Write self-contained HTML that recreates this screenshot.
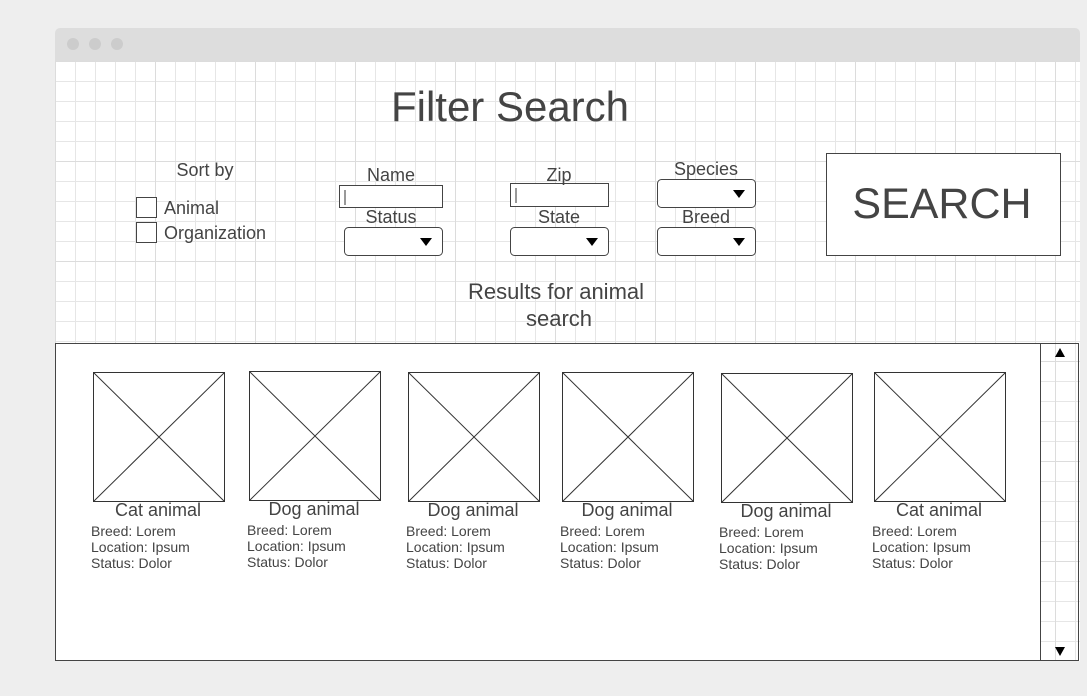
<!DOCTYPE html>
<html><head><meta charset="utf-8"><style>
html,body{margin:0;padding:0;background:#eeeeee;}
svg{display:block;font-family:"Liberation Sans",sans-serif;}
</style></head><body>
<svg width="1087" height="696" viewBox="0 0 1087 696" xmlns="http://www.w3.org/2000/svg">
<defs>
<pattern id="minor" x="55" y="61" width="20" height="20" patternUnits="userSpaceOnUse">
<path d="M0 0.5H20M0.5 0V20" stroke="#e6e6e6" stroke-width="1" fill="none"/>
</pattern>
<pattern id="major" x="55" y="61" width="100" height="100" patternUnits="userSpaceOnUse">
<path d="M0 0.5H100M0.5 0V100" stroke="#dcdcdc" stroke-width="1" fill="none"/>
</pattern>
</defs>
<rect x="0" y="0" width="1087" height="696" fill="#eeeeee"/>
<rect x="55" y="28" width="1025" height="40" rx="5" fill="#dddddd"/>
<circle cx="73" cy="44" r="6" fill="#cccccc"/>
<circle cx="95" cy="44" r="6" fill="#cccccc"/>
<circle cx="117" cy="44" r="6" fill="#cccccc"/>
<rect x="55" y="61" width="1025" height="600" fill="#ffffff"/>
<rect x="55" y="61" width="1025" height="600" fill="url(#minor)"/>
<rect x="55" y="61" width="1025" height="600" fill="url(#major)"/>

<g fill="#fff" stroke="#444" stroke-width="1">
<rect x="136.5" y="197.5" width="20" height="20"/>
<rect x="136.5" y="222.5" width="20" height="20"/>
<rect x="339.5" y="185.5" width="103" height="22"/>
<rect x="510.5" y="183.5" width="98" height="23"/>
<rect x="344.5" y="227.5" width="98" height="28" rx="4"/>
<rect x="510.5" y="227.5" width="98" height="28" rx="4"/>
<rect x="657.5" y="179.5" width="98" height="28" rx="4"/>
<rect x="657.5" y="227.5" width="98" height="28" rx="4"/>
<rect x="826.5" y="153.5" width="234" height="102"/>
</g>
<g fill="#444444" text-anchor="middle">
<text x="510" y="121" font-size="42">Filter Search</text>
<text x="205" y="176" font-size="18">Sort by</text>
<text x="391" y="181" font-size="18">Name</text>
<text x="391" y="223" font-size="18">Status</text>
<text x="559" y="181" font-size="18">Zip</text>
<text x="559" y="223" font-size="18">State</text>
<text x="706" y="175" font-size="18">Species</text>
<text x="706" y="223" font-size="18">Breed</text>
<text x="556" y="299" font-size="22">Results for animal</text>
<text x="559" y="326" font-size="22">search</text>
<text x="942" y="218" font-size="43">SEARCH</text>
</g>
<g fill="#444444" font-size="18">
<text x="164" y="214">Animal</text>
<text x="164" y="239">Organization</text>
</g>
<g stroke="#333" stroke-width="1">
<line x1="345" y1="190" x2="345" y2="205"/>
<line x1="516" y1="188" x2="516" y2="203"/>
</g>
<g fill="#000">
<path d="M420 238h12l-6 8z"/>
<path d="M586 238h12l-6 8z"/>
<path d="M733 190h12l-6 8z"/>
<path d="M733 238h12l-6 8z"/>
</g>

<rect x="55.5" y="343.5" width="985" height="317" fill="#fff" stroke="#444"/>
<line x1="1078.5" y1="343" x2="1078.5" y2="661" stroke="#444"/>
<line x1="1040" y1="343.5" x2="1079" y2="343.5" stroke="#444"/>
<line x1="1040" y1="660.5" x2="1079" y2="660.5" stroke="#444"/>
<path d="M1055 357h10l-5 -9z" fill="#000"/>
<path d="M1055 647h10l-5 9z" fill="#000"/>

<g fill="#fff" stroke="#333" stroke-width="1">
<rect x="93.5" y="372.5" width="131" height="129"/>
<rect x="249.5" y="371.5" width="131" height="129"/>
<rect x="408.5" y="372.5" width="131" height="129"/>
<rect x="562.5" y="372.5" width="131" height="129"/>
<rect x="721.5" y="373.5" width="131" height="129"/>
<rect x="874.5" y="372.5" width="131" height="129"/>
</g>
<g stroke="#333" stroke-width="1">
<path d="M93.5 372.5L224.5 501.5M224.5 372.5L93.5 501.5"/>
<path d="M249.5 371.5L380.5 500.5M380.5 371.5L249.5 500.5"/>
<path d="M408.5 372.5L539.5 501.5M539.5 372.5L408.5 501.5"/>
<path d="M562.5 372.5L693.5 501.5M693.5 372.5L562.5 501.5"/>
<path d="M721.5 373.5L852.5 502.5M852.5 373.5L721.5 502.5"/>
<path d="M874.5 372.5L1005.5 501.5M1005.5 372.5L874.5 501.5"/>
</g>
<g fill="#444" font-size="18" text-anchor="middle">
<text x="158" y="516">Cat animal</text>
<text x="314" y="515">Dog animal</text>
<text x="473" y="516">Dog animal</text>
<text x="627" y="516">Dog animal</text>
<text x="786" y="517">Dog animal</text>
<text x="939" y="516">Cat animal</text>
</g>
<g fill="#444" font-size="14">
<text x="91" y="536">Breed: Lorem</text><text x="91" y="552">Location: Ipsum</text><text x="91" y="568">Status: Dolor</text>
<text x="247" y="535">Breed: Lorem</text><text x="247" y="551">Location: Ipsum</text><text x="247" y="567">Status: Dolor</text>
<text x="406" y="536">Breed: Lorem</text><text x="406" y="552">Location: Ipsum</text><text x="406" y="568">Status: Dolor</text>
<text x="560" y="536">Breed: Lorem</text><text x="560" y="552">Location: Ipsum</text><text x="560" y="568">Status: Dolor</text>
<text x="719" y="537">Breed: Lorem</text><text x="719" y="553">Location: Ipsum</text><text x="719" y="569">Status: Dolor</text>
<text x="872" y="536">Breed: Lorem</text><text x="872" y="552">Location: Ipsum</text><text x="872" y="568">Status: Dolor</text>
</g>
</svg>
</body></html>
